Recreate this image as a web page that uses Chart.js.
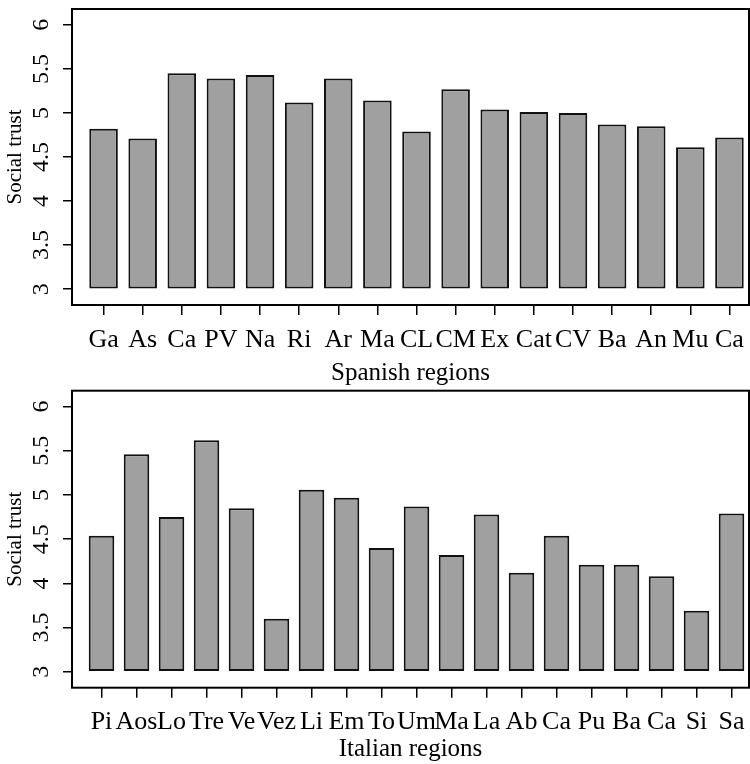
<!DOCTYPE html>
<html>
<head>
<meta charset="utf-8">
<script src="https://cdn.jsdelivr.net/npm/chart.js@4.4.0/dist/chart.umd.min.js"></script>
<style>
  html, body { margin: 0; padding: 0; background: #fff; }
  .panel { position: absolute; left: 0; width: 750px; }
  #p1 { top: 0; height: 390px; }
  #p2 { top: 385px; height: 379px; }
</style>
</head>
<body>
<div class="panel" id="p1"><canvas id="spain"></canvas></div>
<div class="panel" id="p2"><canvas id="italy"></canvas></div>
<script>
// regions (abbreviated) and mean social trust
const spainLabels = ['Ga', 'As', 'Ca', 'PV', 'Na', 'Ri', 'Ar', 'Ma', 'CL', 'CM', 'Ex', 'Cat', 'CV', 'Ba', 'An', 'Mu', 'Ca']
const spainTrust = [4.82, 4.71, 5.45, 5.39, 5.43, 5.12, 5.39, 5.14, 4.79, 5.27, 5.04, 5.01, 5.00, 4.87, 4.85, 4.61, 4.72]

const italyLabels = ['Pi', 'Aos', 'Lo', 'Tre', 'Ve', 'Vez', 'Li', 'Em', 'To', 'Um', 'Ma', 'La', 'Ab', 'Ca', 'Pu', 'Ba', 'Ca', 'Si', 'Sa']
const italyTrust = [4.54, 5.46, 4.75, 5.62, 4.85, 3.60, 5.06, 4.97, 4.40, 4.87, 4.32, 4.78, 4.12, 4.54, 4.21, 4.21, 4.08, 3.69, 4.79]

const yTicks = [3, 3.5, 4, 4.5, 5, 5.5, 6]
const barBase = 3

const serif = 'Liberation Serif'

// R style box round the plot region
const boxPlugin = {
    id: 'box',
    afterDraw(chart) {
        const a = chart.chartArea
        const ctx = chart.ctx
        ctx.save()
        ctx.strokeStyle = '#000'
        ctx.lineWidth = 2
        ctx.strokeRect(a.left, a.top, a.right - a.left, a.bottom - a.top)
        ctx.restore()
    }
}

function makeConfig(labels, values, xTitle, p) {
    return {
        type: 'bar',
        data: {
            datasets: [
                {
                    data: values.map((v, i) => ({ x: i, y: v })),
                    base: barBase,
                    backgroundColor: '#a0a0a0',
                    borderColor: '#111',
                    borderWidth: 2,
                    borderSkipped: false,
                    barPercentage: 0.73,
                    categoryPercentage: 1
                }
            ]
        },
        options: {
            responsive: true,
            maintainAspectRatio: false,
            animation: false,
            layout: { padding: { top: p.top, right: 1, left: 0, bottom: 0 } },
            plugins: { legend: { display: false }, tooltip: { enabled: false } },
            scales: {
                x: {
                    type: 'linear',
                    offset: false,
                    min: -0.5 - p.leftGap,
                    max: labels.length - 0.5,
                    afterBuildTicks: s => { s.ticks = labels.map((_, i) => ({ value: i })) },
                    afterFit: s => {
                        s.height = p.xHeight
                        s.paddingLeft = 0
                        s.paddingRight = 0
                    },
                    border: { display: false },
                    grid: {
                        offset: false,
                        drawOnChartArea: false,
                        drawTicks: true,
                        tickLength: 10,
                        color: '#000',
                        lineWidth: 1.5
                    },
                    ticks: {
                        autoSkip: false,
                        maxRotation: 0,
                        padding: p.tickPad,
                        color: '#000',
                        font: { family: serif, size: 26 },
                        callback: v => labels[v]
                    },
                    title: {
                        display: true,
                        text: xTitle,
                        color: '#000',
                        font: { family: serif, size: 25 },
                        padding: { top: 0, bottom: p.titlePad }
                    }
                },
                y: {
                    min: 2.82,
                    max: 6.18,
                    afterBuildTicks: s => { s.ticks = yTicks.map(v => ({ value: v })) },
                    afterFit: s => {
                        s.width = 72
                        s.paddingTop = 0
                        s.paddingBottom = 0
                    },
                    border: { display: false },
                    grid: {
                        drawOnChartArea: false,
                        drawTicks: true,
                        tickLength: 9,
                        color: '#000',
                        lineWidth: 1.5
                    },
                    ticks: {
                        minRotation: 90,
                        maxRotation: 90,
                        crossAlign: 'center',
                        padding: 6,
                        color: '#000',
                        font: { family: serif, size: 24 },
                        callback: v => String(v)
                    },
                    title: {
                        display: true,
                        text: 'Social trust',
                        color: '#000',
                        font: { family: serif, size: 21 },
                        padding: { top: 3, bottom: 0 }
                    }
                }
            }
        },
        plugins: [boxPlugin]
    }
}

let spainChart = new Chart(
    document.getElementById('spain'),
    makeConfig(spainLabels, spainTrust, 'Spanish regions',
        { top: 9, xHeight: 85, tickPad: 10, titlePad: 2, leftGap: 12 / 39.1 })
)

let italyChart = new Chart(
    document.getElementById('italy'),
    makeConfig(italyLabels, italyTrust, 'Italian regions',
        { top: 5.7, xHeight: 76.3, tickPad: 8.5, titlePad: 0, leftGap: 12 / 35 })
)
</script>
</body>
</html>
